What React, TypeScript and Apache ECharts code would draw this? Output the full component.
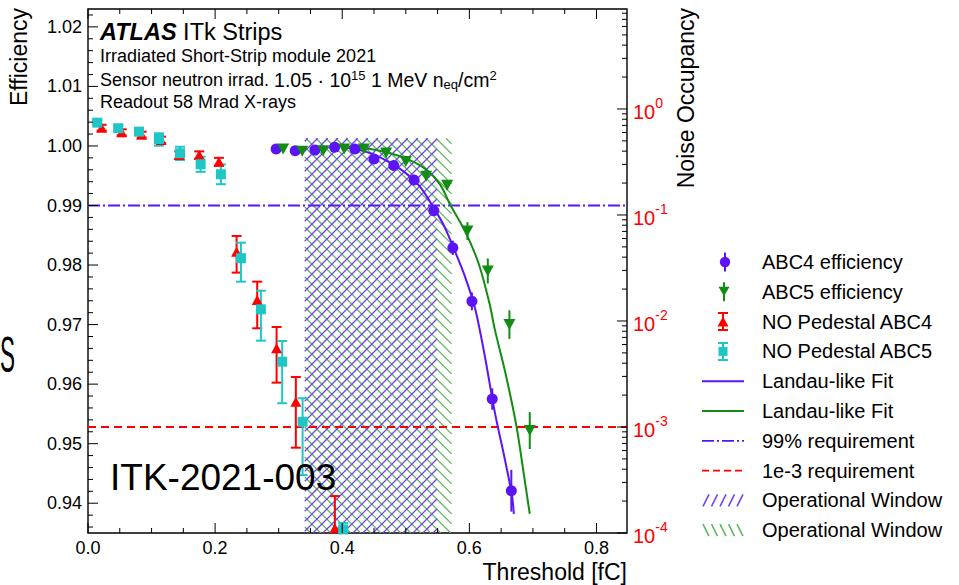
import React, { useEffect, useRef } from 'react';
import * as echarts from 'echarts';

const FONT = '"Liberation Sans", Arial, Helvetica, sans-serif';
const BLUE = '#5a14f6';
const GREEN = '#128c12';
const RED = '#ff0000';
const CYAN = '#1fc6c6';
const HATCH_PURPLE = '#7040f0';
const HATCH_GREEN = '#5cb45c';

// ---------------- data ----------------
// ABC4 efficiency (left axis)
const abc4Threshold = [0.296, 0.326, 0.357, 0.388, 0.420, 0.450, 0.481, 0.513, 0.544, 0.574, 0.604, 0.636, 0.666];
const abc4Efficiency = [0.9995, 0.9992, 0.9993, 0.9998, 0.9995, 0.9978, 0.9967, 0.9943, 0.9891, 0.9829, 0.9739, 0.9575, 0.9421];
const abc4EffError = [0.0002, 0.0002, 0.0002, 0.0002, 0.0003, 0.0004, 0.0005, 0.0006, 0.0008, 0.0012, 0.0015, 0.0018, 0.0035];

// ABC5 efficiency (left axis)
const abc5Threshold = [0.307, 0.337, 0.370, 0.403, 0.434, 0.469, 0.500, 0.532, 0.565, 0.597, 0.629, 0.663, 0.695];
const abc5Efficiency = [0.9995, 0.9991, 0.9992, 0.9995, 0.9995, 0.9988, 0.9974, 0.9949, 0.9934, 0.9857, 0.9790, 0.9700, 0.9522];
const abc5EffError = [0.0002, 0.0002, 0.0002, 0.0002, 0.0002, 0.0003, 0.0004, 0.0006, 0.0008, 0.0015, 0.0021, 0.0024, 0.0031];

// NO Pedestal ABC4 noise occupancy (right axis)
const noPedAbc4Threshold = [0.0215, 0.053, 0.0844, 0.115, 0.1436, 0.175, 0.206, 0.2338, 0.2662, 0.2967, 0.327, 0.3884];
const noPedAbc4Occupancy = [0.666, 0.603, 0.572, 0.510, 0.368, 0.368, 0.318, 0.0451, 0.01578, 0.00552, 0.001734, 0.0001107];
const noPedAbc4Low = [0.625, 0.565, 0.537, 0.475, 0.340, 0.340, 0.292, 0.0286, 0.00853, 0.00262, 0.000638, 0.00001];
const noPedAbc4High = [0.71, 0.643, 0.61, 0.548, 0.398, 0.398, 0.346, 0.0634, 0.0235, 0.00877, 0.002965, 0.000223];

// NO Pedestal ABC5 noise occupancy (right axis)
const noPedAbc5Threshold = [0.0146, 0.0476, 0.0802, 0.1116, 0.1447, 0.1772, 0.2091, 0.2406, 0.272, 0.3055, 0.3376, 0.4014];
const noPedAbc5Occupancy = [0.743, 0.658, 0.611, 0.521, 0.382, 0.301, 0.242, 0.0391, 0.01288, 0.00413, 0.00112, 0.000108];
const noPedAbc5Low = [0.70, 0.62, 0.575, 0.45, 0.33, 0.255, 0.195, 0.0235, 0.00652, 0.001675, 0.000352, 0.00001];
const noPedAbc5High = [0.785, 0.70, 0.65, 0.59, 0.44, 0.355, 0.30, 0.0548, 0.0193, 0.00647, 0.001866, 0.000124];

// Landau-like fits (curves)
const fitAbc4Threshold = [0.404, 0.428, 0.451, 0.475, 0.498, 0.522, 0.544, 0.561, 0.577, 0.593, 0.609, 0.624, 0.640, 0.656, 0.667, 0.670];
const fitAbc4Efficiency = [0.9998, 0.9993, 0.9985, 0.9972, 0.9956, 0.9932, 0.9896, 0.9864, 0.9824, 0.9781, 0.9727, 0.9649, 0.9553, 0.9473, 0.9413, 0.9382];
const fitAbc5Threshold = [0.404, 0.436, 0.467, 0.498, 0.530, 0.554, 0.569, 0.585, 0.601, 0.616, 0.632, 0.640, 0.656, 0.674, 0.687, 0.695];
const fitAbc5Efficiency = [0.9998, 0.9996, 0.9990, 0.9980, 0.9962, 0.9935, 0.9903, 0.9873, 0.9839, 0.9798, 0.9734, 0.9692, 0.9622, 0.9530, 0.9439, 0.9382];

// requirements and operational windows
const efficiencyRequirement = 0.99;
const occupancyRequirement = 1e-3;
const windowAbc4 = [0.341, 0.549];
const windowAbc5 = [0.341, 0.572];
const windowTopEfficiency = 1.0013;

// axes
const xRange = [0, 0.848];
const yLeftRange = [0.935, 1.023];
const yRightRange = [-4, 0.943]; // log10(noise occupancy)
const xTickValues = [0, 0.2, 0.4, 0.6, 0.8];
const xTickLabels = ['0.0', '0.2', '0.4', '0.6', '0.8'];
const yLeftTickLabels = ['0.94', '0.95', '0.96', '0.97', '0.98', '0.99', '1.00', '1.01', '1.02'];
const yRightExponents = [-4, -3, -2, -1, 0];

// legend
const legendNames = [
  'ABC4 efficiency',
  'ABC5 efficiency',
  'NO Pedestal ABC4',
  'NO Pedestal ABC5',
  'Landau-like Fit (ABC4)',
  'Landau-like Fit (ABC5)',
  '99% requirement',
  '1e-3 requirement',
  'Operational Window (ABC4)',
  'Operational Window (ABC5)',
];
const legendLabels: Record<string, string> = {
  'Landau-like Fit (ABC4)': 'Landau-like Fit',
  'Landau-like Fit (ABC5)': 'Landau-like Fit',
  'Operational Window (ABC4)': 'Operational Window',
  'Operational Window (ABC5)': 'Operational Window',
};

// ---------------- helpers ----------------
const yLeftMajor = yLeftTickLabels.map(Number);
const yLeftMinor: number[] = [];
for (let k = 936; k <= 1022; k += 2) if (k % 10 !== 0) yLeftMinor.push(k / 1000);
const xMinor: number[] = [];
for (let k = 5; k <= 80; k += 5) if (k % 20 !== 0) xMinor.push(k / 100);
const yRightMinor: number[] = [];
for (const n of yRightExponents) for (let k = 2; k <= 9; k++) {
  const v = n + Math.log10(k);
  if (v < yRightRange[1]) yRightMinor.push(v);
}

const near = (a: number, b: number) => Math.abs(a - b) < 1e-6;

function svgIcon(inner: string) {
  const svg = `<svg xmlns="http://www.w3.org/2000/svg" width="55" height="20" viewBox="0 0 55 20">${inner}</svg>`;
  return 'image://data:image/svg+xml;charset=utf-8,' + encodeURIComponent(svg);
}
function capsIcon(color: string, marker: string) {
  return svgIcon(
    `<g stroke="${color}" stroke-width="2"><line x1="21" y1="1.5" x2="21" y2="18.5"/><line x1="16" y1="1.5" x2="26" y2="1.5"/><line x1="16" y1="18.5" x2="26" y2="18.5"/></g>${marker}`
  );
}
function hatchIcon(color: string, forward: boolean) {
  let s = '';
  for (let i = 0; i < 5; i++) {
    const xa = 1 + i * 8.5;
    s += forward
      ? `<line x1="${xa}" y1="16" x2="${xa + 6}" y2="4" stroke="${color}" stroke-width="1.5"/>`
      : `<line x1="${xa}" y1="4" x2="${xa + 6}" y2="16" stroke="${color}" stroke-width="1.5"/>`;
  }
  return svgIcon(s);
}
const legendIcons: Record<string, string> = {
  'ABC4 efficiency': svgIcon(`<line x1="23" y1="0.5" x2="23" y2="19.5" stroke="${BLUE}" stroke-width="2"/><circle cx="23" cy="10" r="5.2" fill="${BLUE}"/>`),
  'ABC5 efficiency': svgIcon(`<line x1="22" y1="0.5" x2="22" y2="19.5" stroke="${GREEN}" stroke-width="2"/><polygon points="16.5,5 27.5,5 22,14.5" fill="${GREEN}"/>`),
  'NO Pedestal ABC4': capsIcon(RED, `<polygon points="15.5,15 26.5,15 21,5" fill="${RED}"/>`),
  'NO Pedestal ABC5': capsIcon(CYAN, `<rect x="16.5" y="5.5" width="9" height="9" fill="${CYAN}"/>`),
  'Landau-like Fit (ABC4)': svgIcon(`<line x1="0" y1="10" x2="42" y2="10" stroke="${BLUE}" stroke-width="2"/>`),
  'Landau-like Fit (ABC5)': svgIcon(`<line x1="0" y1="10" x2="42" y2="10" stroke="${GREEN}" stroke-width="2"/>`),
  '99% requirement': svgIcon(`<line x1="0" y1="10" x2="42" y2="10" stroke="${BLUE}" stroke-width="1.8" stroke-dasharray="12,3,2,3"/>`),
  '1e-3 requirement': svgIcon(`<line x1="0" y1="10" x2="42" y2="10" stroke="${RED}" stroke-width="1.8" stroke-dasharray="7,4"/>`),
  'Operational Window (ABC4)': hatchIcon(HATCH_PURPLE, true),
  'Operational Window (ABC5)': hatchIcon(HATCH_GREEN, false),
};

function errorBarSeries(name: string, xs: number[], lo: number[], hi: number[], color: string, cap: boolean, yAxisIndex: number) {
  return {
    type: 'custom',
    name,
    xAxisIndex: 0,
    yAxisIndex,
    clip: true,
    silent: true,
    z: 3,
    data: xs.map((x, i) => [x, lo[i], hi[i]]),
    renderItem: (_params: any, api: any) => {
      const a = api.coord([api.value(0), api.value(1)]);
      const b = api.coord([api.value(0), api.value(2)]);
      const st = { stroke: color, lineWidth: 2 };
      const children: any[] = [{ type: 'line', shape: { x1: a[0], y1: a[1], x2: b[0], y2: b[1] }, style: st }];
      if (cap) {
        children.push({ type: 'line', shape: { x1: a[0] - 5, y1: a[1], x2: a[0] + 5, y2: a[1] }, style: st });
        children.push({ type: 'line', shape: { x1: b[0] - 5, y1: b[1], x2: b[0] + 5, y2: b[1] }, style: st });
      }
      return { type: 'group', children };
    },
  };
}

function hatchSeries(name: string, win: number[], color: string, forward: boolean) {
  return {
    type: 'custom',
    name,
    xAxisIndex: 0,
    yAxisIndex: 0,
    clip: true,
    silent: true,
    z: 1,
    itemStyle: { color },
    data: [[win[0], win[1], windowTopEfficiency, yLeftRange[0]]],
    renderItem: (_params: any, api: any) => {
      const p0 = api.coord([api.value(0), api.value(2)]);
      const p1 = api.coord([api.value(1), api.value(3)]);
      const L = p0[0], T = p0[1], R = p1[0], B = p1[1];
      const s = 10;
      const st = { stroke: color, lineWidth: 1.25 };
      const children: any[] = [];
      if (forward) {
        for (let c = L + T + 3; c < R + B; c += s) {
          const xa = Math.max(L, c - B), xb = Math.min(R, c - T);
          if (xb <= xa) continue;
          children.push({ type: 'line', shape: { x1: xa, y1: c - xa, x2: xb, y2: c - xb }, style: st });
        }
      } else {
        for (let c = L - B + 6; c < R - T; c += s) {
          const xa = Math.max(L, c + T), xb = Math.min(R, c + B);
          if (xb <= xa) continue;
          children.push({ type: 'line', shape: { x1: xa, y1: xa - c, x2: xb, y2: xb - c }, style: st });
        }
      }
      return { type: 'group', children };
    },
  };
}

function xTickSeries(values: number[], len: number) {
  return {
    type: 'custom', xAxisIndex: 0, yAxisIndex: 0, silent: true, z: 8, clip: false,
    data: values.map((v) => [v, yLeftRange[0]]),
    renderItem: (params: any, api: any) => {
      const cs = params.coordSys;
      const x = api.coord([api.value(0), api.value(1)])[0];
      const st = { stroke: '#000', lineWidth: 1 };
      return {
        type: 'group',
        children: [
          { type: 'line', shape: { x1: x, y1: cs.y + cs.height, x2: x, y2: cs.y + cs.height - len }, style: st },
          { type: 'line', shape: { x1: x, y1: cs.y, x2: x, y2: cs.y + len }, style: st },
        ],
      };
    },
  };
}

function yTickSeries(values: number[], len: number, axisIndex: number, right: boolean) {
  return {
    type: 'custom', xAxisIndex: 0, yAxisIndex: axisIndex, silent: true, z: 8, clip: false,
    data: values.map((v) => [xRange[0], v]),
    renderItem: (params: any, api: any) => {
      const cs = params.coordSys;
      const y = api.coord([api.value(0), api.value(1)])[1];
      const st = { stroke: '#000', lineWidth: 1 };
      const x0 = right ? cs.x + cs.width : cs.x;
      const x1 = right ? x0 - len : x0 + len;
      return { type: 'line', shape: { x1: x0, y1: y, x2: x1, y2: y }, style: st };
    },
  };
}

function buildOption() {
  const log = (v: number) => Math.log10(v);
  const textBase = { fontFamily: FONT, fill: '#000' };
  const supRich = {
    n: { fontSize: 18, fontFamily: FONT, fill: '#000', verticalAlign: 'middle' },
    m: { fontSize: 19.5, fontFamily: FONT, fill: '#000', verticalAlign: 'middle' },
    sup: { fontSize: 13, fontFamily: FONT, fill: '#000', padding: [0, 0, 9, 0], verticalAlign: 'middle' },
    sub: { fontSize: 13, fontFamily: FONT, fill: '#000', padding: [9, 0, 0, 0], verticalAlign: 'middle' },
  };
  return {
    animation: false,
    backgroundColor: '#ffffff',
    textStyle: { fontFamily: FONT },
    grid: {
      left: 88, top: 9, width: 539, height: 524,
      show: true, borderColor: '#000', borderWidth: 1.4, backgroundColor: 'transparent',
    },
    xAxis: {
      type: 'value', min: xRange[0], max: xRange[1], interval: 0.2,
      axisLine: { show: false }, axisTick: { show: false }, splitLine: { show: false },
      axisLabel: {
        fontSize: 18, color: '#000', fontFamily: FONT, margin: 6,
        showMaxLabel: true,
        formatter: (v: number) => {
          const i = xTickValues.findIndex((t) => near(t, v));
          return i >= 0 ? xTickLabels[i] : '';
        },
      },
    },
    yAxis: [
      {
        type: 'value', min: yLeftRange[0], max: yLeftRange[1], interval: 0.005, position: 'left',
        axisLine: { show: false }, axisTick: { show: false }, splitLine: { show: false },
        axisLabel: {
          fontSize: 18, color: '#000', fontFamily: FONT, margin: 6,
          formatter: (v: number) => {
            const i = yLeftMajor.findIndex((t) => near(t, v));
            return i >= 0 ? yLeftTickLabels[i] : '';
          },
        },
      },
      {
        type: 'value', min: yRightRange[0], max: yRightRange[1], interval: 1, position: 'right',
        axisLine: { show: false }, axisTick: { show: false }, splitLine: { show: false },
        axisLabel: {
          margin: 6, color: RED,
          formatter: (v: number) => {
            const e = yRightExponents.find((t) => near(t, v));
            return e === undefined ? '' : `{b|10}{e|${e}}`;
          },
          rich: {
            b: { fontSize: 20, fontFamily: FONT, color: RED, verticalAlign: 'bottom' },
            e: { fontSize: 14, fontFamily: FONT, color: RED, padding: [0, 0, 12, 0], verticalAlign: 'bottom' },
          },
        },
      },
    ],
    legend: {
      orient: 'vertical', left: 697, top: 247, itemWidth: 55, itemHeight: 20, itemGap: 9.8,
      selectedMode: false,
      textStyle: { fontSize: 20, fontFamily: FONT, color: '#000' },
      formatter: (name: string) => legendLabels[name] ?? name,
      data: legendNames.map((name) => ({ name, icon: legendIcons[name] })),
    },
    graphic: {
      elements: [
        { type: 'text', x: 19, y: 8, rotation: Math.PI / 2, z: 100,
          style: { ...textBase, text: 'Efficiency', fontSize: 23, align: 'right', verticalAlign: 'middle' } },
        { type: 'text', x: 686, y: 8, rotation: Math.PI / 2, z: 100,
          style: { ...textBase, text: 'Noise Occupancy', fontSize: 23, align: 'right', verticalAlign: 'middle' } },
        { type: 'text', x: 627, y: 572, z: 100,
          style: { ...textBase, text: 'Threshold [fC]', fontSize: 23, align: 'right', verticalAlign: 'middle' } },
        { type: 'text', x: 110, y: 477, z: 100,
          style: { ...textBase, text: 'ITK-2021-003', fontSize: 37, align: 'left', verticalAlign: 'middle' } },
        { type: 'text', x: 0, y: 355, z: 100, scaleX: 0.45,
          style: { ...textBase, text: 'S', fontSize: 50, align: 'left', verticalAlign: 'middle' } },
        { type: 'text', x: 100, y: 32, z: 100,
          style: {
            ...textBase, text: '{a|ATLAS}{b| ITk Strips}', align: 'left', verticalAlign: 'middle',
            rich: {
              a: { fontSize: 23.5, fontWeight: 'bold', fontStyle: 'italic', fontFamily: FONT, fill: '#000' },
              b: { fontSize: 23.5, fontFamily: FONT, fill: '#000' },
            },
          } },
        { type: 'text', x: 100, y: 56, z: 100,
          style: { ...textBase, text: 'Irradiated Short-Strip module 2021', fontSize: 18, align: 'left', verticalAlign: 'middle' } },
        { type: 'text', x: 100, y: 79.5, z: 100,
          style: {
            ...textBase, align: 'left', verticalAlign: 'middle', rich: supRich,
            text: '{n|Sensor neutron irrad. }{m|1.05 · 10}{sup|15}{m| 1 MeV n}{sub|eq}{m|/cm}{sup|2}',
          } },
        { type: 'text', x: 100, y: 101.5, z: 100,
          style: { ...textBase, text: 'Readout 58 Mrad X-rays', fontSize: 18, align: 'left', verticalAlign: 'middle' } },
      ],
    },
    series: [
      hatchSeries('Operational Window (ABC5)', windowAbc5, HATCH_GREEN, false),
      hatchSeries('Operational Window (ABC4)', windowAbc4, HATCH_PURPLE, true),
      {
        type: 'line', name: '99% requirement', xAxisIndex: 0, yAxisIndex: 0, z: 2, silent: true,
        symbol: 'none', color: BLUE,
        lineStyle: { color: BLUE, width: 1.8, type: [12, 3, 2, 3] },
        data: [[xRange[0], efficiencyRequirement], [xRange[1], efficiencyRequirement]],
      },
      {
        type: 'line', name: '1e-3 requirement', xAxisIndex: 0, yAxisIndex: 1, z: 2, silent: true,
        symbol: 'none', color: RED,
        lineStyle: { color: RED, width: 1.8, type: [8, 5] },
        data: [[xRange[0], log(occupancyRequirement)], [xRange[1], log(occupancyRequirement)]],
      },
      {
        type: 'line', name: 'Landau-like Fit (ABC4)', xAxisIndex: 0, yAxisIndex: 0, z: 2, silent: true,
        symbol: 'none', color: BLUE, smooth: 0.3, clip: true,
        lineStyle: { color: BLUE, width: 2 },
        data: fitAbc4Threshold.map((x, i) => [x, fitAbc4Efficiency[i]]),
      },
      {
        type: 'line', name: 'Landau-like Fit (ABC5)', xAxisIndex: 0, yAxisIndex: 0, z: 2, silent: true,
        symbol: 'none', color: GREEN, smooth: 0.3, clip: true,
        lineStyle: { color: GREEN, width: 2 },
        data: fitAbc5Threshold.map((x, i) => [x, fitAbc5Efficiency[i]]),
      },
      errorBarSeries('ABC4 efficiency error', abc4Threshold,
        abc4Efficiency.map((v, i) => v - abc4EffError[i]), abc4Efficiency.map((v, i) => v + abc4EffError[i]), BLUE, false, 0),
      errorBarSeries('ABC5 efficiency error', abc5Threshold,
        abc5Efficiency.map((v, i) => v - abc5EffError[i]), abc5Efficiency.map((v, i) => v + abc5EffError[i]), GREEN, false, 0),
      errorBarSeries('NO Pedestal ABC4 error', noPedAbc4Threshold, noPedAbc4Low.map(log), noPedAbc4High.map(log), RED, true, 1),
      errorBarSeries('NO Pedestal ABC5 error', noPedAbc5Threshold, noPedAbc5Low.map(log), noPedAbc5High.map(log), CYAN, true, 1),
      {
        type: 'scatter', name: 'NO Pedestal ABC4', xAxisIndex: 0, yAxisIndex: 1, z: 4, silent: true,
        symbol: 'triangle', symbolSize: [11, 10], color: RED, itemStyle: { color: RED, opacity: 1 }, clip: true,
        data: noPedAbc4Threshold.map((x, i) => [x, log(noPedAbc4Occupancy[i])]),
      },
      {
        type: 'scatter', name: 'NO Pedestal ABC5', xAxisIndex: 0, yAxisIndex: 1, z: 4, silent: true,
        symbol: 'rect', symbolSize: 10, color: CYAN, itemStyle: { color: CYAN, opacity: 1 }, clip: true,
        data: noPedAbc5Threshold.map((x, i) => [x, log(noPedAbc5Occupancy[i])]),
      },
      {
        type: 'scatter', name: 'ABC4 efficiency', xAxisIndex: 0, yAxisIndex: 0, z: 5, silent: true,
        symbol: 'circle', symbolSize: 11, color: BLUE, itemStyle: { color: BLUE, opacity: 1 }, clip: true,
        data: abc4Threshold.map((x, i) => [x, abc4Efficiency[i]]),
      },
      {
        type: 'scatter', name: 'ABC5 efficiency', xAxisIndex: 0, yAxisIndex: 0, z: 5, silent: true,
        symbol: 'triangle', symbolRotate: 180, symbolSize: [12, 11], color: GREEN, itemStyle: { color: GREEN, opacity: 1 }, clip: true,
        data: abc5Threshold.map((x, i) => [x, abc5Efficiency[i]]),
      },
      xTickSeries(xTickValues, 10),
      xTickSeries(xMinor, 5),
      yTickSeries(yLeftMajor, 10, 0, false),
      yTickSeries(yLeftMinor, 5, 0, false),
      yTickSeries(yRightExponents, 10, 1, true),
      yTickSeries(yRightMinor, 5, 1, true),
    ],
  };
}

export default function App() {
  const ref = useRef<HTMLDivElement>(null);
  useEffect(() => {
    if (!ref.current) return;
    const chart = echarts.init(ref.current, null, { renderer: 'svg', width: 959, height: 585 });
    chart.setOption(buildOption() as any);
    return () => chart.dispose();
  }, []);
  return (
    <div
      ref={ref}
      style={{ position: 'fixed', left: 0, top: 0, width: 959, height: 585, background: '#fff' }}
    />
  );
}
